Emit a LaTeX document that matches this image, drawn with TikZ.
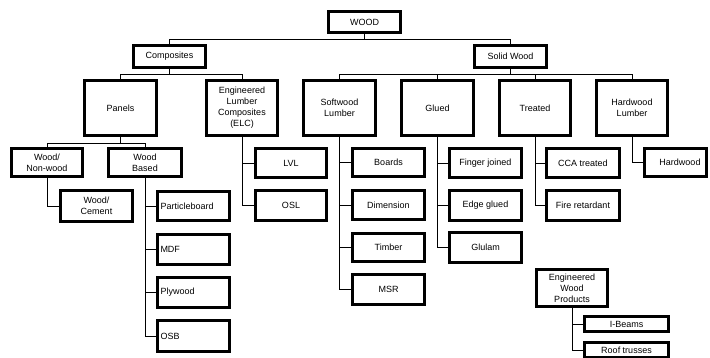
\documentclass[tikz,border=0pt]{standalone}
\usepackage{fontspec}
\setmainfont{Liberation Sans}
\newcommand\bx[7][]{%
  \node[box,#1,minimum width={(#5-#3-2.6)*1pt},minimum height={(#6-#4-2.6)*1pt}]
    (#2) at ({(#3+#5)/2},{(#4+#6)/2}) {#7};}
\begin{document}
\begin{tikzpicture}[x=1pt,y=-1pt,
  box/.style={draw, line width=2.6pt, inner sep=1pt, align=center,
    font=\fontsize{9}{11}\selectfont},
  lbox/.style={align=left, text width=66pt, inner xsep=3pt},
  conn/.style={line width=0.8pt}]
\useasboundingbox (0,0) rectangle (710,357);
\clip (0,0) rectangle (710,357);
% level 0-1
\bx{wood}{327}{10}{402}{34}{WOOD}
\bx{comp}{132}{44}{207}{69}{Composites}
\bx{solid}{473}{44}{548}{69}{Solid Wood}
% level 2
\bx{panels}{83}{79}{158}{137}{Panels}
\bx{elc}{205}{79}{279}{137}{Engineered\\Lumber\\Composites\\(ELC)}
\bx{sw}{302}{79}{377}{137}{Softwood\\Lumber}
\bx{glued}{400}{79}{475}{137}{Glued}
\bx{treated}{498}{79}{572}{137}{Treated}
\bx{hwl}{595}{79}{669}{137}{Hardwood\\Lumber}
% panels
\bx{wnw}{10}{147}{84}{178}{Wood/\\Non-wood}
\bx{wb}{107}{147}{183}{178}{Wood\\Based}
\bx{wc}{59}{189}{134}{223}{Wood/\\Cement}
\bx[lbox]{pb}{156}{190}{231}{222}{Particleboard}
\bx[lbox]{mdf}{156}{233}{231}{266}{MDF}
\bx[lbox]{ply}{156}{276}{231}{309}{Plywood}
\bx[lbox]{osb}{156}{319}{231}{353}{OSB}
% ELC
\bx{lvl}{254}{147}{328}{179}{LVL}
\bx{osl}{254}{189}{328}{222}{OSL}
% softwood
\bx{boards}{351}{147}{426}{178}{Boards}
\bx{dim}{351}{189}{426}{221}{Dimension}
\bx{timber}{351}{232}{426}{263}{Timber}
\bx{msr}{351}{273}{426}{306}{MSR}
% glued
\bx{fj}{448}{147}{523}{179}{Finger joined}
\bx{eg}{448}{189}{523}{222}{Edge glued}
\bx{glulam}{448}{231}{523}{264}{Glulam}
% treated
\bx{cca}{545}{147}{621}{179}{CCA treated}
\bx{fr}{545}{189}{621}{222}{Fire retardant}
% hardwood
\bx{hw}{643}{147}{708}{178}{\hspace*{9pt}Hardwood}
% engineered wood products
\bx{ewp}{535}{268}{609}{308}{Engineered\\Wood\\Products}
\bx{ib}{583}{315}{670}{333}{I-Beams}
\bx{rt}{583}{341}{670}{359}{Roof trusses}
% connectors
\draw[conn] (wood.south) -- ++(0,5) -| (comp.north);
\draw[conn] (wood.south) -- ++(0,5) -| (solid.north);
\foreach \c in {panels,elc} \draw[conn] (comp.south) -- ++(0,5) -| (\c.north);
\foreach \c in {sw,glued,treated,hwl} \draw[conn] (solid.south) -- ++(0,5) -| (\c.north);
\foreach \c in {wnw,wb} \draw[conn] (panels.south) -- ++(0,6) -| (\c.north);
\draw[conn] (wnw.south) |- (wc.west);
\foreach \c in {pb,mdf,ply,osb} \draw[conn] (wb.south) |- (\c.west);
\foreach \c in {lvl,osl} \draw[conn] (elc.south) |- (\c.west);
\foreach \c in {boards,dim,timber,msr} \draw[conn] (sw.south) |- (\c.west);
\foreach \c in {fj,eg,glulam} \draw[conn] (glued.south) |- (\c.west);
\foreach \c in {cca,fr} \draw[conn] (treated.south) |- (\c.west);
\draw[conn] (hwl.south) |- (hw.west);
\foreach \c in {ib,rt} \draw[conn] (ewp.south) |- (\c.west);
\end{tikzpicture}
\end{document}
